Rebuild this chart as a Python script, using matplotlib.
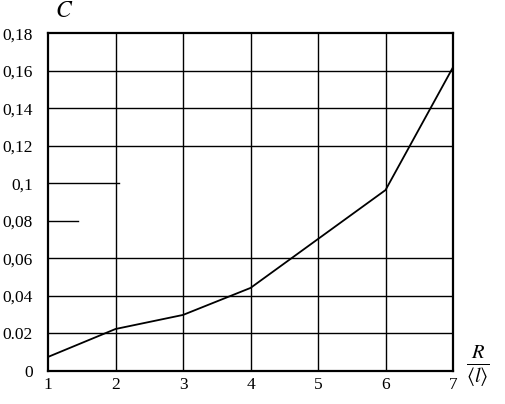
import numpy as np
import matplotlib.pyplot as plt

R_l = [1, 2, 3, 4, 5, 6, 7]
C = [0.0075, 0.0224, 0.0299, 0.0443, 0.0704, 0.0965, 0.162]

y_ticks = [0, 0.02, 0.04, 0.06, 0.08, 0.10, 0.12, 0.14, 0.16, 0.18]
y_labels = ['0', '0.02', '0,04', '0,06', '0,08', '0,1', '0,12', '0,14', '0,16', '0,18']
x_ticks = [1, 2, 3, 4, 5, 6, 7]

plt.rcParams['font.family'] = ['Liberation Serif', 'DejaVu Serif']
plt.rcParams['mathtext.fontset'] = 'stix'

fig = plt.figure(figsize=(5.06, 4.04), dpi=100)
ax = fig.add_axes([0.0949, 0.0817, 0.8004, 0.8354])

ax.plot(R_l, C, color='black', linewidth=1.3)

# grid: the 0,08 and 0,1 lines are only partly drawn in the original
for v in x_ticks[1:-1]:
    ax.axvline(v, color='black', linewidth=1.0)
for v in y_ticks[1:-1]:
    if abs(v - 0.08) < 1e-9:
        ax.axhline(v, xmin=0, xmax=0.075, color='black', linewidth=1.0)
    elif abs(v - 0.10) < 1e-9:
        ax.axhline(v, xmin=0, xmax=0.175, color='black', linewidth=1.0)
    else:
        ax.axhline(v, color='black', linewidth=1.0)

ax.set_xlim(1, 7)
ax.set_ylim(0, 0.18)
ax.set_xticks(x_ticks)
ax.set_xticklabels([str(v) for v in x_ticks])
ax.set_yticks(y_ticks)
ax.set_yticklabels(y_labels)
ax.tick_params(axis='both', length=0, labelsize=12.5)
ax.tick_params(axis='y', pad=11)
ax.tick_params(axis='x', pad=4)

for s in ax.spines.values():
    s.set_linewidth(1.6)
    s.set_color('black')

ax.text(0.04, 1.064, r'$C$', transform=ax.transAxes, fontsize=17,
        ha='center', va='center')
ax.text(1.062, 0.015, r'$\frac{R}{\langle l\rangle}$', transform=ax.transAxes,
        fontsize=21, ha='center', va='center')

fig.savefig('out.png', dpi=100)
